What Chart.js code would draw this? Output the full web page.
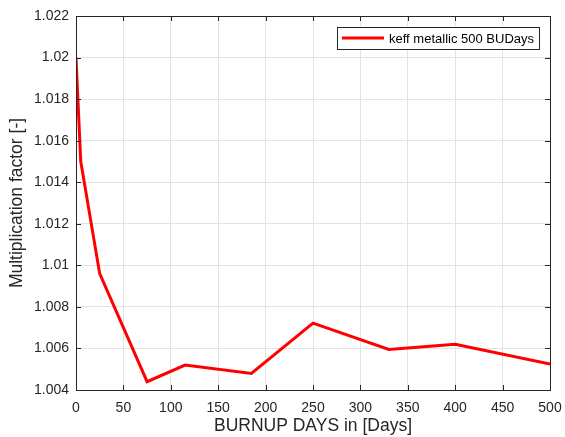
<!DOCTYPE html>
<html>
<head>
<meta charset="utf-8">
<script src="https://cdn.jsdelivr.net/npm/chart.js@4.4.0/dist/chart.umd.min.js"></script>
<style>
  html, body { margin: 0; padding: 0; background: #fff; }
  #wrap { width: 565px; height: 437px; }
</style>
</head>
<body>
<div id="wrap"><canvas id="chart"></canvas></div>
<script>
// burnup days and keff values
const burnupDays = [0, 5, 25, 75, 115, 185, 250, 330, 400, 500]
const keffValues = [1.0200, 1.0150, 1.0096, 1.0044, 1.0052, 1.0048, 1.00722, 1.00595, 1.0062, 1.00525]
const xTicks = [0, 50, 100, 150, 200, 250, 300, 350, 400, 450, 500]
const yTicks = [1.004, 1.006, 1.008, 1.01, 1.012, 1.014, 1.016, 1.018, 1.02, 1.022]
const seriesLabel = 'keff metallic 500 BUDays'

const textColor = '#262626'
const fontFamily = "'Liberation Sans', Arial, Helvetica, sans-serif"

const points = burnupDays.map((d, i) => ({ x: d, y: keffValues[i] }))

// MATLAB style box with inward ticks, plus the legend box
const matlabBox = {
    id: 'matlabBox',
    afterDraw(chart) {
        const ctx = chart.ctx
        const a = chart.chartArea
        const xs = chart.scales.x
        const ys = chart.scales.y
        const len = 5
        ctx.save()
        ctx.strokeStyle = textColor
        ctx.lineWidth = 1
        ctx.beginPath()
        xTicks.forEach(t => {
            const px = Math.round(xs.getPixelForValue(t)) + 0.5
            ctx.moveTo(px, a.bottom); ctx.lineTo(px, a.bottom - len)
            ctx.moveTo(px, a.top); ctx.lineTo(px, a.top + len)
        })
        yTicks.forEach(t => {
            const py = Math.round(ys.getPixelForValue(t)) + 0.5
            ctx.moveTo(a.left, py); ctx.lineTo(a.left + len, py)
            ctx.moveTo(a.right, py); ctx.lineTo(a.right - len, py)
        })
        ctx.stroke()
        ctx.strokeRect(Math.round(a.left) + 0.5, Math.round(a.top) + 0.5,
            Math.round(a.right - a.left), Math.round(a.bottom - a.top))

        // legend
        const ds = chart.data.datasets[0]
        ctx.font = '13px ' + fontFamily
        const tw = ctx.measureText(ds.label).width
        const bw = 52 + tw + 5
        const bh = 22
        const bx = a.right - 11 - bw
        const by = a.top + 11
        ctx.fillStyle = '#fff'
        ctx.fillRect(bx, by, bw, bh)
        ctx.strokeStyle = '#262626'
        ctx.strokeRect(Math.round(bx) + 0.5, Math.round(by) + 0.5, Math.round(bw), bh)
        ctx.strokeStyle = ds.borderColor
        ctx.lineWidth = 3
        ctx.beginPath()
        ctx.moveTo(bx + 5, by + bh / 2)
        ctx.lineTo(bx + 47, by + bh / 2)
        ctx.stroke()
        ctx.fillStyle = '#000'
        ctx.textBaseline = 'middle'
        ctx.fillText(ds.label, bx + 52, by + bh / 2 + 1)
        ctx.restore()
    }
}

new Chart(document.getElementById('chart'), {
    type: 'line',
    data: {
        datasets: [{
            label: seriesLabel,
            data: points,
            borderColor: '#ff0000',
            borderWidth: 3,
            pointRadius: 0,
            tension: 0,
            fill: false
        }]
    },
    options: {
        responsive: true,
        maintainAspectRatio: false,
        animation: false,
        layout: { padding: { top: 16, right: 15, left: 0, bottom: 0 } },
        plugins: {
            legend: { display: false },
            tooltip: { enabled: false }
        },
        scales: {
            x: {
                type: 'linear',
                min: 0,
                max: 500,
                afterBuildTicks: s => { s.ticks = xTicks.map(v => ({ value: v })) },
                afterFit: s => {
                    s.height = 47
                    s.paddingLeft = 0
                    s.paddingRight = 0
                },
                grid: { color: '#e3e3e3', drawTicks: false },
                border: { display: false },
                ticks: {
                    color: textColor,
                    padding: 10,
                    maxRotation: 0,
                    font: { family: fontFamily, size: 14 },
                    callback: v => String(v)
                },
                title: {
                    display: true,
                    text: 'BURNUP DAYS in [Days]',
                    color: textColor,
                    padding: { top: 0, bottom: 0 },
                    font: { family: fontFamily, size: 17.5 }
                }
            },
            y: {
                type: 'linear',
                min: 1.004,
                max: 1.022,
                afterBuildTicks: s => { s.ticks = yTicks.map(v => ({ value: v })) },
                afterFit: s => {
                    s.width = 76
                    s.paddingTop = 0
                    s.paddingBottom = 0
                },
                grid: { color: '#e3e3e3', drawTicks: false },
                border: { display: false },
                ticks: {
                    color: textColor,
                    padding: 7,
                    font: { family: fontFamily, size: 14 },
                    callback: v => String(Math.round(v * 1000) / 1000)
                },
                title: {
                    display: true,
                    text: 'Multiplication factor [-]',
                    color: textColor,
                    padding: { top: 7, bottom: 0 },
                    font: { family: fontFamily, size: 17.5 }
                }
            }
        }
    },
    plugins: [matlabBox]
})
</script>
</body>
</html>
